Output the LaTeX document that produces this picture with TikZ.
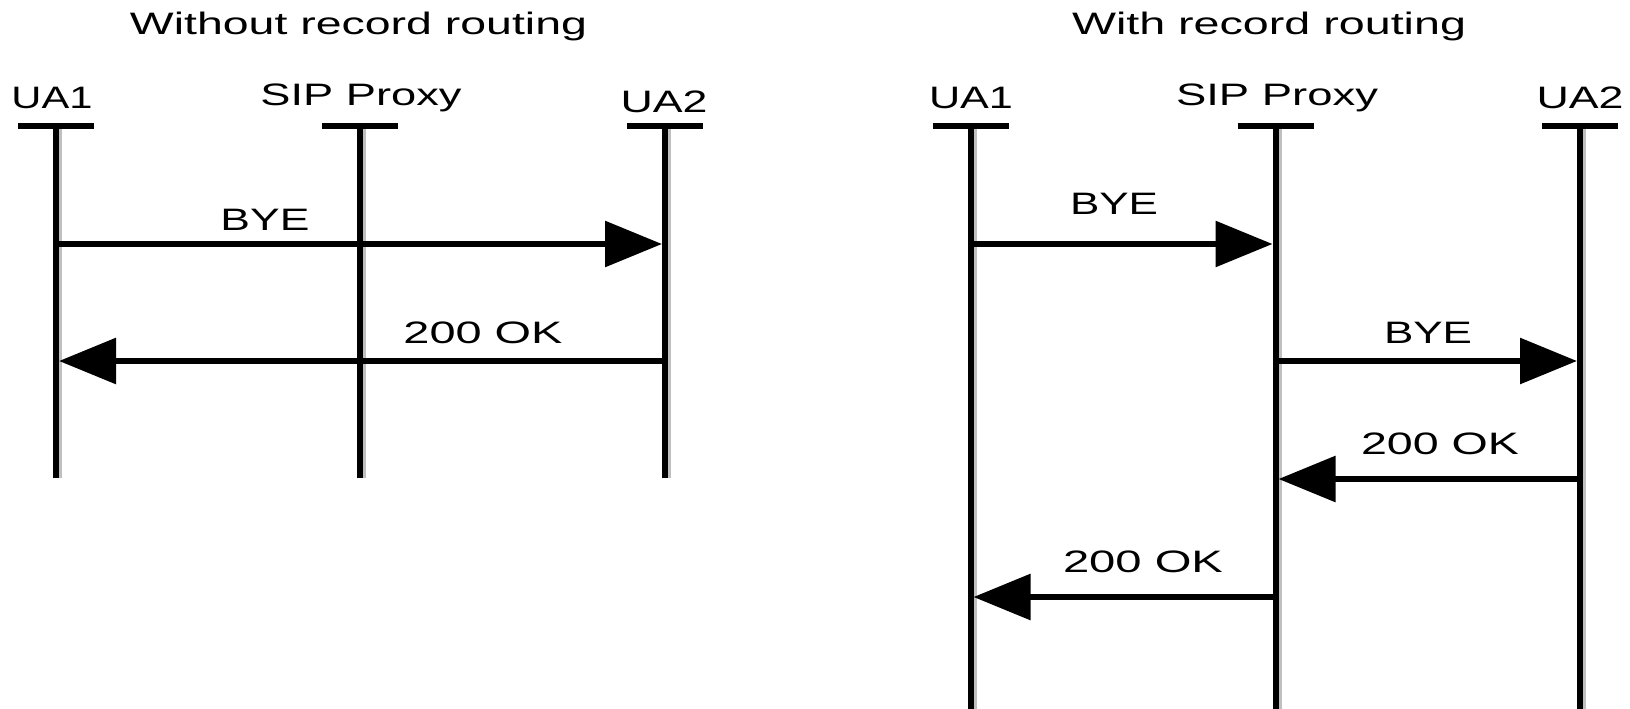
\documentclass[tikz,border=0pt]{standalone}
\usepackage{fontspec}
\setmainfont{Liberation Sans}
\usetikzlibrary{arrows.meta}
\newcommand{\sw}[2]{\resizebox{#1pt}{\height}{#2}}
\begin{document}
\begin{tikzpicture}[x=1pt,y=-1pt,
  lbl/.style={anchor=base, inner sep=0pt, font=\fontsize{31}{31}\selectfont},
  life/.style={line width=6pt, black},
  shade/.style={line width=3pt, color=black!25},
  bar/.style={line width=6.5pt, black},
  msg/.style={line width=6pt, -{Triangle[length=57pt,width=45pt]}}]
\useasboundingbox (0,0) rectangle (1630,709);
% titles
\node[lbl] (t1) at (358.5,35) {\sw{457}{Without record routing}};
\node[lbl] (t2) at (1269,35) {\sw{394}{With record routing}};
% lifeline heads, left
\node[lbl] (la) at (52,109) {\sw{81}{UA1}};
\node[lbl] (lp) at (361,106) {\sw{201}{SIP Proxy}};
\node[lbl] (lb) at (664,112) {\sw{87}{UA2}};
% lifeline heads, right
\node[lbl] (ra) at (971,109) {\sw{84}{UA1}};
\node[lbl] (rp) at (1277,106) {\sw{202}{SIP Proxy}};
\node[lbl] (rb) at (1580,108) {\sw{87}{UA2}};
% lifeline coordinates
\coordinate (laT) at (56,126);   \coordinate (laB) at (56,478);
\coordinate (lpT) at (360,126);  \coordinate (lpB) at (360,478);
\coordinate (lbT) at (665,126);  \coordinate (lbB) at (665,478);
\coordinate (raT) at (970.5,126); \coordinate (raB) at (970.5,709);
\coordinate (rpT) at (1275.5,126);\coordinate (rpB) at (1275.5,709);
\coordinate (rbT) at (1580,126); \coordinate (rbB) at (1580,709);
\foreach \n in {la,lp,lb,ra,rp,rb}{
  \draw[shade] ([xshift=4.5pt,yshift=-3pt]\n T) -- ([xshift=4.5pt]\n B);
  \draw[life] (\n T) -- (\n B);
  \draw[bar] ([xshift=-38pt]\n T) -- ([xshift=38pt]\n T);
}
% messages, left
\coordinate (m1s) at (56,244);   \coordinate (m1e) at (662,244);
\coordinate (m2s) at (665,361);  \coordinate (m2e) at (59,361);
\draw[msg] (m1s) -- (m1e);
\draw[msg] (m2s) -- (m2e);
\node[lbl] (m1l) at (265,230) {\sw{89}{BYE}};
\node[lbl] (m2l) at (483,343) {\sw{159}{200 OK}};
% messages, right
\coordinate (r1s) at (970.5,244);  \coordinate (r1e) at (1272.5,244);
\coordinate (r2s) at (1275.5,361); \coordinate (r2e) at (1577,361);
\coordinate (r3s) at (1580,479);   \coordinate (r3e) at (1278.5,479);
\coordinate (r4s) at (1275.5,597); \coordinate (r4e) at (973.5,597);
\draw[msg] (r1s) -- (r1e);
\draw[msg] (r2s) -- (r2e);
\draw[msg] (r3s) -- (r3e);
\draw[msg] (r4s) -- (r4e);
\node[lbl] (r1l) at (1114,214) {\sw{88}{BYE}};
\node[lbl] (r2l) at (1428,343) {\sw{88}{BYE}};
\node[lbl] (r3l) at (1440,454) {\sw{158}{200 OK}};
\node[lbl] (r4l) at (1143,572) {\sw{160}{200 OK}};
\end{tikzpicture}
\end{document}
